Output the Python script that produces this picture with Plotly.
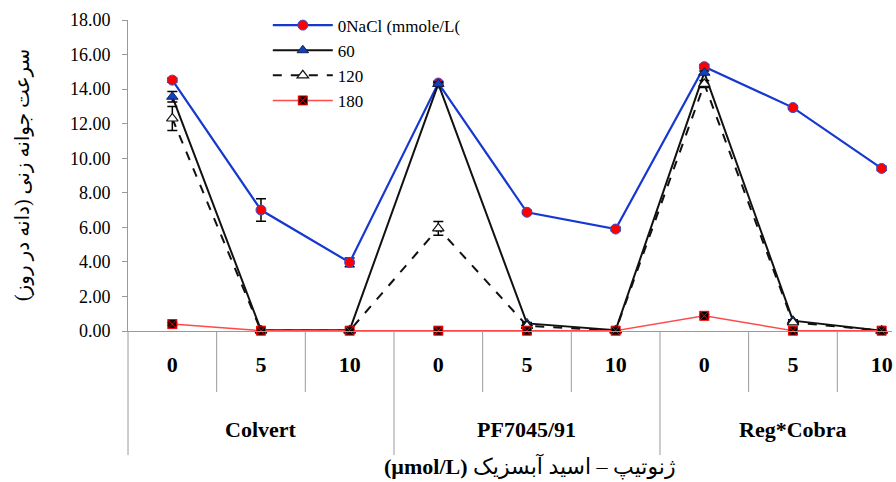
import plotly.graph_objects as go

# ---- data ----
groups = ["Colvert", "PF7045/91", "Reg*Cobra"]
aba_levels = ["0", "5", "10"]
tick_labels = [lvl for g in groups for lvl in aba_levels]

series_names = ["0NaCl (mmole/L(", "60", "120", "180"]
nacl_0 = [14.52, 7.00, 3.97, 14.35, 6.87, 5.90, 15.30, 12.93, 9.41]
nacl_60 = [13.56, 0.05, 0.05, 14.30, 0.44, 0.05, 14.95, 0.60, 0.02]
nacl_120 = [12.30, 0.02, 0.02, 5.94, 0.30, 0.02, 14.30, 0.50, 0.02]
nacl_180 = [0.40, 0.02, 0.02, 0.02, 0.02, 0.02, 0.88, 0.02, 0.02]

err_0 = [0.12, 0.65, 0.25, 0.10, 0.10, 0.10, 0.12, 0.10, 0.12]
err_60 = [0.30, 0.0, 0.0, 0.10, 0.05, 0.0, 0.10, 0.05, 0.0]
err_120 = [0.70, 0.0, 0.0, 0.40, 0.05, 0.0, 0.20, 0.05, 0.0]
err_180 = [0.08, 0.0, 0.0, 0.0, 0.0, 0.0, 0.08, 0.0, 0.0]

y_title = "سرعت جوانه زنی (دانه در روز)\u200f"
x_title = "<b>(µmol/L)</b> ژنوتیپ – اسید آبسزیک"

# ---- figure ----
xs = list(range(len(tick_labels)))
XMIN, XMAX = -0.5, 8.117
SERIF = "Liberation Serif, Times New Roman, serif"
AR = "Liberation Serif, DejaVu Sans, serif"

fig = go.Figure()

def add(name, y, err, line, marker):
    fig.add_trace(go.Scatter(
        x=xs, y=y, name=name, mode="lines+markers",
        line=line, marker=marker, cliponaxis=False,
        error_y=dict(type="data", array=err, visible=True,
                     color="black", thickness=1.5, width=5),
    ))

add(series_names[0], nacl_0, err_0,
    dict(color="#1638d0", width=2.2),
    dict(symbol="circle", size=10, color="#ff0000",
         line=dict(color="#3050d8", width=1)))
add(series_names[1], nacl_60, err_60,
    dict(color="#111111", width=2),
    dict(symbol="triangle-up", size=10, color="#1040c8",
         line=dict(color="#102050", width=1)))
add(series_names[2], nacl_120, err_120,
    dict(color="#111111", width=2, dash="dash"),
    dict(symbol="triangle-up", size=10, color="white",
         line=dict(color="#111111", width=1.2)))
add(series_names[3], nacl_180, err_180,
    dict(color="#ff4a4a", width=1.5),
    dict(symbol="square-x", size=9, color="#000000",
         line=dict(color="#ff0000", width=1)))

# category separators below the axis
shapes = []
span = XMAX - XMIN
for i in range(len(tick_labels)):
    b = i - 0.5
    xp = (b - XMIN) / span
    long = (i % len(aba_levels) == 0)
    shapes.append(dict(type="line", xref="paper", yref="paper",
                       x0=xp, x1=xp, y0=0, y1=-0.399 if long else -0.196,
                       line=dict(color="#9a9a9a", width=1)))

annotations = []
for gi, g in enumerate(groups):
    cx = gi * len(aba_levels) + (len(aba_levels) - 1) / 2
    annotations.append(dict(x=cx, y=-0.318, xref="x", yref="paper",
                            text=g, showarrow=False,
                            font=dict(family=SERIF, size=22, color="black", weight="bold"),
                            xanchor="center", yanchor="middle"))
annotations.append(dict(x=-0.1387, y=0.5016, xref="paper", yref="paper",
                        text=y_title, showarrow=False, textangle=-90,
                        font=dict(family=AR, size=20, color="black"),
                        xanchor="center", yanchor="middle"))
annotations.append(dict(x=0.526, y=-0.437, xref="paper", yref="paper",
                        text=x_title, showarrow=False,
                        font=dict(family=AR, size=22, color="black"),
                        xanchor="center", yanchor="middle"))

fig.update_layout(
    width=896, height=482,
    margin=dict(l=128, r=4, t=20, b=151),
    paper_bgcolor="white", plot_bgcolor="white",
    showlegend=True,
    legend=dict(x=0.183, y=1.04, xanchor="left", yanchor="top",
                font=dict(family=SERIF, size=17, color="black"),
                bgcolor="rgba(0,0,0,0)", itemwidth=60, tracegroupgap=0),
    xaxis=dict(range=[XMIN, XMAX], tickmode="array", tickvals=xs, ticktext=tick_labels,
               showline=True, linecolor="#9a9a9a", linewidth=1, ticks="",
               showgrid=False, zeroline=False, ticklabelstandoff=14,
               tickfont=dict(family=SERIF, size=22, color="black", weight="bold")),
    yaxis=dict(range=[0, 18], dtick=2, tickformat=".2f",
               showline=True, linecolor="#9a9a9a", linewidth=1,
               ticks="outside", ticklen=5, tickcolor="#9a9a9a",
               showgrid=False, zeroline=False, ticklabelstandoff=8,
               tickfont=dict(family=SERIF, size=18, color="black")),
    shapes=shapes, annotations=annotations,
)

fig.write_html("out.html")
